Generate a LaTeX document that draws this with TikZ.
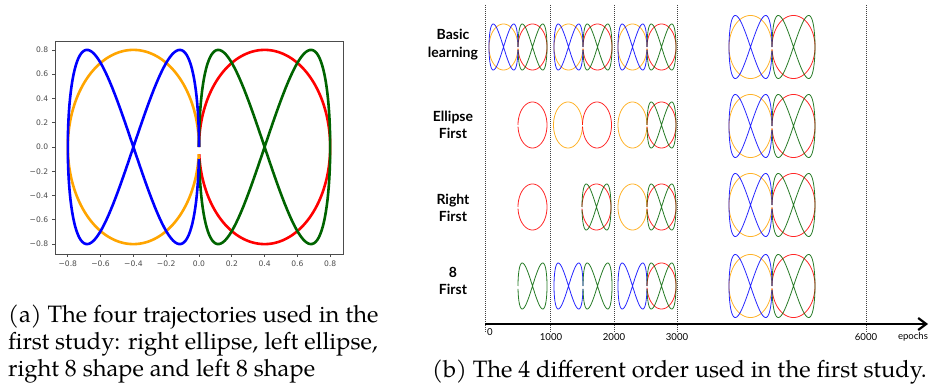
\documentclass[tikz,border=0pt]{standalone}
\usepackage{fontspec}
\usetikzlibrary{arrows.meta}

\newfontfamily\plotfont{DejaVu Sans}
\newfontfamily\orderfont{Lato}
\newfontfamily\capfont{texgyrepagella-regular.otf}

\definecolor{eightblue}{RGB}{0,0,255}
\definecolor{ellorange}{RGB}{255,165,0}
\definecolor{eightgreen}{RGB}{0,100,0}
\definecolor{ellred}{RGB}{255,0,0}

\tikzset{
    ticklabel/.style={font=\plotfont\fontsize{7.6}{9}\selectfont, inner sep=0pt},
    rowlabel/.style={font=\orderfont\bfseries\fontsize{14}{17.5}\selectfont, align=center, inner sep=0pt},
    epochlabel/.style={font=\orderfont\fontsize{9.6}{11}\selectfont, inner sep=0pt},
    epochline/.style={line width=0.9pt, black!75, dash pattern=on 1pt off 1pt},
    caption/.style={font=\capfont\fontsize{23.7}{27}\selectfont, inner sep=0pt},
    thumb/.style={x=36.25pt, y=28.75pt, line width=0.8pt, draw opacity=0.85, samples=90},
    bigthumb/.style={x=53.75pt, y=39.4pt, line width=0.8pt, draw opacity=0.85, samples=110}
}

\begin{document}
\begin{tikzpicture}[x=1pt, y=-1pt]

    % ==========================================
    % MACROS: the four trajectories (data units)
    % ==========================================
    \def\lefteight{\draw[eightblue] plot[domain=0:356.4] ({-0.4+0.4*cos(\x)},{0.8*sin(2*\x)});}
    \def\leftellipse{\draw[ellorange] plot[domain=0:355.7] ({-0.4+0.4*cos(\x)},{0.8*sin(\x)});}
    \def\righteight{\draw[eightgreen] plot[domain=0:356.4] ({0.4-0.4*cos(\x)},{0.8*sin(2*\x)});}
    \def\rightellipse{\draw[ellred] plot[domain=0:355.7] ({0.4-0.4*cos(\x)},{0.8*sin(\x)});}
    \def\alltraj{\rightellipse \leftellipse \righteight \lefteight}
    % small copy: #1 = x of data origin, #2 = y centre, #3 = curves
    \def\thumbat#1#2#3{\begin{scope}[shift={(#1,#2)}, thumb] #3 \end{scope}}
    \def\bigthumbat#1#2#3{\begin{scope}[shift={(#1,#2)}, bigthumb] #3 \end{scope}}

    \path[use as bounding box, fill=white] (0,0) rectangle (935,390);

    % ==========================================
    % PANEL (a): THE FOUR TRAJECTORIES
    % ==========================================
    \begin{scope}[shift={(199,147)}, x=164pt, y=121.4pt, line width=2.6pt, samples=160]
        \alltraj
    \end{scope}

    % Axes box and ticks
    \draw[black!70, line width=0.8pt] (55,41) rectangle (343,254);
    \foreach \v/\t [count=\i] in {0.8/0.8, 0.6/0.6, 0.4/0.4, 0.2/0.2, 0/0.0,
                                  -0.2/−0.2, -0.4/−0.4, -0.6/−0.6, -0.8/−0.8}{
        \draw[black!70, line width=0.7pt] (55,{147-121.4*\v}) -- ++(-3.5,0)
            node[ticklabel, anchor=east, xshift=-3pt] (ylab\i) {\t};
        \draw[black!70, line width=0.7pt] ({199+164*\v},254) -- ++(0,3.5)
            node[ticklabel, anchor=north, yshift=-3pt] (xlab\i) {\t};
    }

    % Caption (a)
    \node[caption, anchor=north west, align=left] (capa) at (8,305)
        {(a) The four trajectories used in the\\first study: right ellipse, left ellipse,\\right 8 shape and left 8 shape};

    % ==========================================
    % PANEL (b): THE 4 ORDERS
    % ==========================================
    % Epoch marks
    \foreach \xx in {485, 550, 614, 677, 866}{
        \draw[epochline] (\xx,5) -- (\xx,333);
    }
    \coordinate (axisstart) at (485,324);
    \coordinate (axisend) at (928,324);
    \draw[line width=2.2pt, -{Straight Barb[length=8pt, width=12pt]}] (axisstart) -- (axisend);

    \node[epochlabel] (ep0) at (490,332) {0};
    \node[epochlabel] (ep1000) at (551,337) {1000};
    \node[epochlabel] (ep2000) at (614,337) {2000};
    \node[epochlabel] (ep3000) at (677,337) {3000};
    \node[epochlabel] (ep6000) at (866,337) {6000};
    \node[epochlabel] (epochs) at (913,337) {epochs};

    % Row names
    \node[rowlabel] (basic) at (453,44.5) {Basic\\learning};
    \node[rowlabel] (ellfirst) at (453,125) {Ellipse\\First};
    \node[rowlabel] (rightfirst) at (453,208) {Right\\First};
    \node[rowlabel] (eightfirst) at (453,281) {8\\First};

    % Basic learning
    \thumbat{518}{47}{\alltraj}
    \thumbat{583}{47}{\alltraj}
    \thumbat{647}{47}{\alltraj}
    \bigthumbat{772}{47}{\alltraj}

    % Ellipse first
    \thumbat{518}{125}{\rightellipse}
    \thumbat{582.5}{125}{\leftellipse \rightellipse}
    \thumbat{647}{125}{\leftellipse \rightellipse \righteight}
    \bigthumbat{772}{126}{\alltraj}

    % Right first
    \thumbat{518}{207}{\rightellipse}
    \thumbat{582}{207}{\rightellipse \righteight}
    \thumbat{647}{207}{\leftellipse \rightellipse \righteight}
    \bigthumbat{772}{205}{\alltraj}

    % 8 first
    \thumbat{518}{286}{\righteight}
    \thumbat{583}{286}{\lefteight \righteight}
    \thumbat{647}{286}{\lefteight \rightellipse \righteight}
    \bigthumbat{772}{286}{\alltraj}

    % Caption (b)
    \node[caption, anchor=base west] (capb) at (432,377)
        {(b) The 4 different order used in the first study.};

\end{tikzpicture}
\end{document}
